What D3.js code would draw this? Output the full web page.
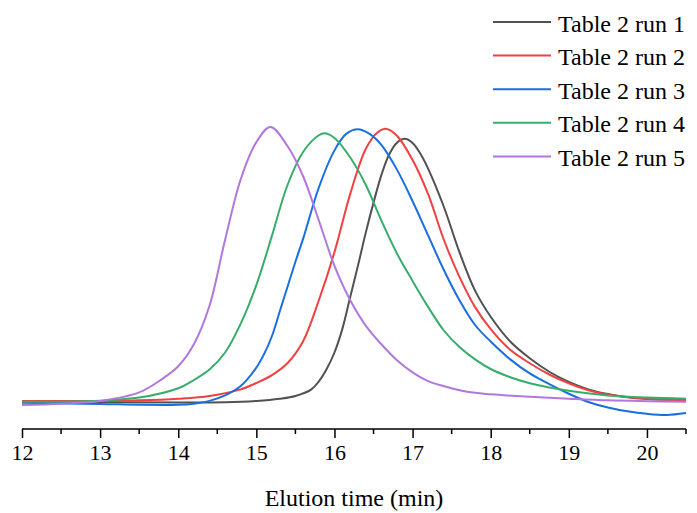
<!DOCTYPE html>
<html>
<head>
<meta charset="utf-8">
<script src="https://cdn.jsdelivr.net/npm/d3@7"></script>
<style>
  html, body { margin: 0; padding: 0; background: #fff; }
  svg { display: block; }
  text { font-family: "Liberation Serif", "Times New Roman", serif; fill: #000; }
</style>
</head>
<body>
<svg id="chart" width="697" height="513"></svg>
<script>
// ---- Data (intensity in arbitrary units) ----
const seriesNames = ["Table 2 run 1", "Table 2 run 2", "Table 2 run 3", "Table 2 run 4", "Table 2 run 5"];
const seriesColors = ["#515151", "#F14040", "#1A6FDF", "#37AD6B", "#B177DE"];
const xTicks = [12, 13, 14, 15, 16, 17, 18, 19, 20];
const xLabel = "Elution time (min)";

const run1 = [[12,0.002],[13,0.0],[14,-0.002],[14.6,-0.001],[15.0,0.004],[15.3,0.012],[15.5,0.022],[15.7,0.045],[15.8,0.075],[15.9,0.12],[16.0,0.18],[16.1,0.265],[16.2,0.38],[16.3,0.495],[16.4,0.615],[16.5,0.725],[16.6,0.825],[16.7,0.9],[16.8,0.943],[16.9,0.957],[17.0,0.942],[17.1,0.903],[17.2,0.848],[17.4,0.71],[17.6,0.545],[17.8,0.405],[18.0,0.31],[18.25,0.22],[18.5,0.159],[18.75,0.11],[19.0,0.073],[19.25,0.046],[19.5,0.029],[19.75,0.017],[20.0,0.011],[20.5,0.007]];
const run2 = [[12,0.004],[13,0.004],[13.5,0.006],[14.0,0.012],[14.4,0.022],[14.8,0.046],[15.0,0.069],[15.2,0.098],[15.4,0.142],[15.6,0.222],[15.8,0.37],[16.0,0.545],[16.2,0.755],[16.4,0.92],[16.55,0.98],[16.67,0.993],[16.8,0.968],[17.0,0.88],[17.2,0.755],[17.4,0.59],[17.6,0.455],[17.8,0.345],[18.0,0.265],[18.25,0.19],[18.5,0.141],[18.75,0.1],[19.0,0.068],[19.25,0.043],[19.5,0.027],[20.0,0.012],[20.5,0.006]];
const run3 = [[12,-0.003],[13,-0.007],[13.5,-0.01],[14.0,-0.01],[14.2,-0.006],[14.4,0.004],[14.6,0.024],[14.8,0.058],[15.0,0.125],[15.1,0.175],[15.2,0.24],[15.3,0.33],[15.4,0.42],[15.5,0.51],[15.6,0.595],[15.8,0.78],[16.0,0.915],[16.15,0.975],[16.3,0.992],[16.45,0.975],[16.6,0.935],[16.8,0.845],[17.0,0.73],[17.2,0.605],[17.4,0.48],[17.6,0.37],[17.8,0.28],[18.0,0.22],[18.25,0.155],[18.5,0.104],[18.75,0.065],[19.0,0.03],[19.25,0.0],[19.5,-0.02],[19.75,-0.034],[20.0,-0.043],[20.25,-0.047],[20.5,-0.04]];
const run4 = [[12,0.001],[13,0.005],[13.5,0.016],[14.0,0.05],[14.2,0.08],[14.4,0.118],[14.6,0.18],[14.8,0.285],[15.0,0.425],[15.2,0.605],[15.4,0.79],[15.6,0.91],[15.8,0.97],[15.88,0.977],[16.0,0.96],[16.2,0.89],[16.4,0.79],[16.6,0.66],[16.8,0.54],[17.0,0.44],[17.2,0.345],[17.4,0.26],[17.6,0.20],[17.8,0.155],[18.0,0.12],[18.25,0.09],[18.5,0.068],[18.75,0.053],[19.0,0.041],[19.5,0.024],[20.0,0.016],[20.5,0.012]];
const run5 = [[12,-0.011],[12.5,-0.006],[13.0,0.004],[13.5,0.035],[13.8,0.085],[14.0,0.13],[14.2,0.21],[14.4,0.35],[14.6,0.59],[14.8,0.81],[15.0,0.945],[15.18,1.0],[15.4,0.93],[15.6,0.82],[15.8,0.66],[16.0,0.495],[16.2,0.371],[16.4,0.278],[16.6,0.21],[16.8,0.152],[17.0,0.108],[17.2,0.076],[17.4,0.058],[17.7,0.037],[18.0,0.028],[18.5,0.019],[19.0,0.012],[19.5,0.006],[20.0,0.003],[20.5,0.001]];
const seriesData = [run1, run2, run3, run4, run5];

// ---- Layout ----
const svg = d3.select("#chart");
const x = d3.scaleLinear().domain([12, 20.5]).range([22, 686]);
const y = d3.scaleLinear().domain([0, 1]).range([402, 127]);
const axisY = 429;

// Lines
const line = d3.line()
  .x(d => x(d[0]))
  .y(d => y(d[1]))
  .curve(d3.curveCatmullRom.alpha(0.5));

svg.append("g").selectAll("path")
  .data(seriesData)
  .join("path")
  .attr("d", d => line(d))
  .attr("fill", "none")
  .attr("stroke", (d, i) => seriesColors[i])
  .attr("stroke-width", 2);

// X axis
const minorTicks = d3.range(12.5, 20.6, 1);
const gAxis = svg.append("g").attr("transform", `translate(0,${axisY})`);
gAxis.call(d3.axisBottom(x).tickValues(xTicks).tickSize(9).tickSizeOuter(0).tickFormat(d3.format("d")).tickPadding(6))
  .call(g => g.select(".domain").attr("stroke", "#000").attr("stroke-width", 1.5).attr("d", `M${x(12)},0H${x(20.5)}`))
  .call(g => g.selectAll(".tick line").attr("stroke", "#000").attr("stroke-width", 1.5))
  .call(g => g.selectAll(".tick text").attr("font-size", 22).attr("font-family", "Liberation Serif").attr("fill", "#000"));
gAxis.append("g").selectAll("line")
  .data(minorTicks)
  .join("line")
  .attr("x1", d => x(d)).attr("x2", d => x(d))
  .attr("y1", 0).attr("y2", 5)
  .attr("stroke", "#000").attr("stroke-width", 1.5);

svg.append("text")
  .attr("x", 354).attr("y", 506)
  .attr("text-anchor", "middle")
  .attr("font-size", 24)
  .text(xLabel);

// Legend
const legend = svg.append("g");
const rows = legend.selectAll("g")
  .data(seriesNames)
  .join("g")
  .attr("transform", (d, i) => `translate(0,${22 + i * 33.6})`);
rows.append("line")
  .attr("x1", 493).attr("x2", 551).attr("y1", 0).attr("y2", 0)
  .attr("stroke", (d, i) => seriesColors[i]).attr("stroke-width", 2);
rows.append("text")
  .attr("x", 558).attr("y", 9.5)
  .attr("font-size", 24)
  .text(d => d);
</script>
</body>
</html>
